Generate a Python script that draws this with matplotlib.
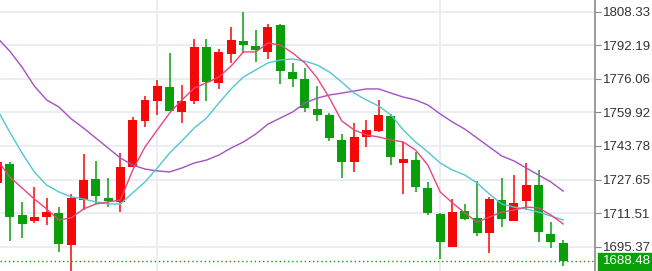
import matplotlib
matplotlib.use("Agg")
import matplotlib.pyplot as plt
import matplotlib.transforms as mtransforms
from matplotlib.patches import Rectangle
import numpy as np

# candle data (index -1 is the partly hidden candle at the left edge)
candle_idx = list(range(-1, 46))
opens = [1725.98, 1734.97, 1710.60, 1707.72, 1709.50, 1711.42, 1696.18, 1717.81, 1727.91, 1718.92,
         1716.71, 1733.82, 1755.93, 1765.55, 1771.99, 1760.26, 1765.40, 1791.22, 1773.91, 1788.00,
         1794.39, 1791.99, 1788.96, 1801.79, 1779.49, 1775.98, 1761.56, 1758.67, 1746.66, 1736.23,
         1748.24, 1750.98, 1758.19, 1735.74, 1737.04, 1723.44, 1710.94, 1695.37, 1712.53, 1709.02,
         1701.81, 1717.81, 1707.86, 1717.33, 1725.03, 1701.33, 1697.29]
highs = [1737.00, 1736.22, 1717.00, 1724.21, 1718.63, 1714.59, 1720.55, 1739.78, 1736.56, 1728.53,
         1740.26, 1757.57, 1767.95, 1775.50, 1788.33, 1773.09, 1795.21, 1795.06, 1790.26, 1800.83,
         1808.33, 1799.53, 1802.42, 1802.27, 1783.53, 1781.12, 1772.61, 1759.49, 1749.40, 1754.68,
         1756.27, 1765.88, 1759.01, 1745.84, 1740.89, 1726.61, 1711.42, 1718.15, 1715.89, 1726.95,
         1719.40, 1728.53, 1729.83, 1735.46, 1732.24, 1707.38, 1698.59]
lows = [1724.50, 1698.25, 1699.40, 1706.61, 1705.80, 1692.96, 1683.20, 1713.01, 1715.89, 1714.30,
        1711.90, 1733.50, 1752.76, 1758.67, 1760.40, 1754.68, 1763.96, 1765.55, 1771.17, 1783.53,
        1788.33, 1784.01, 1785.45, 1773.58, 1771.99, 1760.26, 1755.93, 1746.32, 1728.25, 1731.42,
        1743.15, 1750.70, 1734.64, 1720.70, 1721.80, 1710.60, 1689.31, 1695.20, 1708.20, 1700.51,
        1692.19, 1704.69, 1707.70, 1713.01, 1697.77, 1694.60, 1686.23]
closes = [1736.08, 1709.79, 1706.28, 1709.50, 1711.90, 1696.52, 1718.92, 1727.43, 1719.74, 1717.33,
          1733.82, 1756.13, 1765.88, 1772.61, 1760.60, 1765.55, 1791.51, 1774.68, 1789.10, 1794.73,
          1792.33, 1789.92, 1801.12, 1779.83, 1775.98, 1761.89, 1758.67, 1747.76, 1736.23, 1748.24,
          1751.46, 1758.67, 1738.63, 1737.38, 1723.92, 1711.42, 1697.48, 1711.90, 1708.54, 1702.10,
          1718.29, 1708.68, 1716.52, 1725.03, 1702.29, 1697.48, 1688.48]

# moving average lines
ma_fast = [1737.0, 1728.9, 1723.6, 1718.3, 1713.5, 1708.2, 1709.2, 1713.5, 1715.9, 1716.9,
           1717.8, 1732.2, 1743.3, 1751.5, 1759.6, 1765.9, 1771.6, 1774.1, 1776.9, 1782.2,
           1789.0, 1789.0, 1793.3, 1792.3, 1788.5, 1783.7, 1776.5, 1766.8, 1755.8, 1751.5,
           1749.1, 1748.1, 1746.7, 1745.7, 1741.8, 1734.6, 1721.7, 1716.4, 1711.6, 1707.2,
           1709.6, 1712.0, 1713.0, 1714.4, 1714.0, 1710.6, 1706.3]
ma_mid = [1761.1, 1750.5, 1740.4, 1731.3, 1725.0, 1721.7, 1719.3, 1718.3, 1716.9, 1715.9,
          1715.9, 1721.2, 1726.5, 1733.2, 1740.4, 1746.2, 1752.4, 1757.2, 1764.4, 1771.2,
          1776.9, 1780.3, 1783.7, 1785.1, 1785.6, 1784.6, 1782.7, 1779.3, 1774.5, 1769.2,
          1765.9, 1763.0, 1758.7, 1751.5, 1745.7, 1740.9, 1735.6, 1732.2, 1729.8, 1726.0,
          1720.7, 1715.9, 1714.4, 1713.5, 1712.0, 1710.1, 1708.2]
ma_slow = [1795.7, 1789.4, 1781.7, 1772.6, 1765.9, 1762.5, 1756.8, 1752.4, 1747.6, 1742.8,
           1738.0, 1734.6, 1732.7, 1731.8, 1731.3, 1733.2, 1735.6, 1737.0, 1739.4, 1742.8,
           1745.7, 1749.5, 1754.3, 1757.2, 1760.1, 1764.4, 1766.8, 1768.3, 1769.2, 1770.2,
           1771.2, 1771.2, 1769.2, 1767.3, 1765.9, 1763.5, 1759.2, 1755.3, 1751.9, 1747.6,
           1743.3, 1739.0, 1736.6, 1733.2, 1729.8, 1726.5, 1722.1]

price_ticks = [1695.37, 1711.51, 1727.65, 1743.78, 1759.92, 1776.06, 1792.19, 1808.33]
tick_labels = ["1695.37", "1711.51", "1727.65", "1743.78", "1759.92", "1776.06", "1792.19", "1808.33"]
last_price = 1688.48
vgrid_idx = [12, 35]

up_color = '#f50808'
down_color = '#0b9e0b'
grid_color = '#e8ecf1'

plt.rcParams['font.family'] = ['Liberation Sans', 'DejaVu Sans']

fig = plt.figure(figsize=(6.52, 2.71), dpi=100)
ax = fig.add_axes([0, 0, 595 / 652, 1])
ax.set_xlim(-0.79, 47.59)
ax.set_ylim(1683.68, 1813.95)

# grid
for p in price_ticks:
    ax.axhline(p, color=grid_color, lw=1.3, zorder=0)
for v in vgrid_idx:
    ax.axvline(v, color=grid_color, lw=1.3, zorder=0)

# candles
x = np.array(candle_idx)
o = np.array(opens)
c = np.array(closes)
colors = np.where(c >= o, up_color, down_color)
ax.vlines(x, lows, highs, colors=colors, lw=1.1, zorder=2)
bottoms = np.minimum(o, c)
heights = np.maximum(np.abs(c - o), 0.6)
ax.bar(x, heights, bottom=bottoms, width=0.73, color=colors, linewidth=0, zorder=3)

# moving averages
ax.plot(x, ma_slow, color='#a451c2', lw=1.0, zorder=4)
ax.plot(x, ma_mid, color='#52c6d3', lw=1.0, zorder=4)
ax.plot(x, ma_fast, color='#e8467c', lw=1.0, zorder=4)

# last price line
ax.axhline(last_price, color=down_color, lw=1.0, ls=(0, (1, 2)), zorder=1)

# right price axis
for s in ['top', 'left', 'bottom']:
    ax.spines[s].set_visible(False)
ax.spines['right'].set_color('#8a8a8a')
ax.spines['right'].set_linewidth(1.2)
ax.set_xticks([])
ax.yaxis.tick_right()
ax.set_yticks(price_ticks)
ax.set_yticklabels(tick_labels)
ax.tick_params(axis='y', length=4, width=0.8, color='#8a8a8a', labelsize=9.5,
               labelcolor='#333333', pad=2)

# last price tag
tag = Rectangle((598 / 652, 0), 54 / 652, 18 / 271, transform=fig.transFigure,
                color='#0aa00a', clip_on=False, zorder=5)
ax.add_patch(tag)
trans = mtransforms.blended_transform_factory(ax.transAxes, ax.transData)
ax.text(603 / 595, last_price, "1688.48", transform=trans, color='white', fontsize=9.5,
        va='center', ha='left', clip_on=False, zorder=6)

fig.savefig('out.png', dpi=100)
